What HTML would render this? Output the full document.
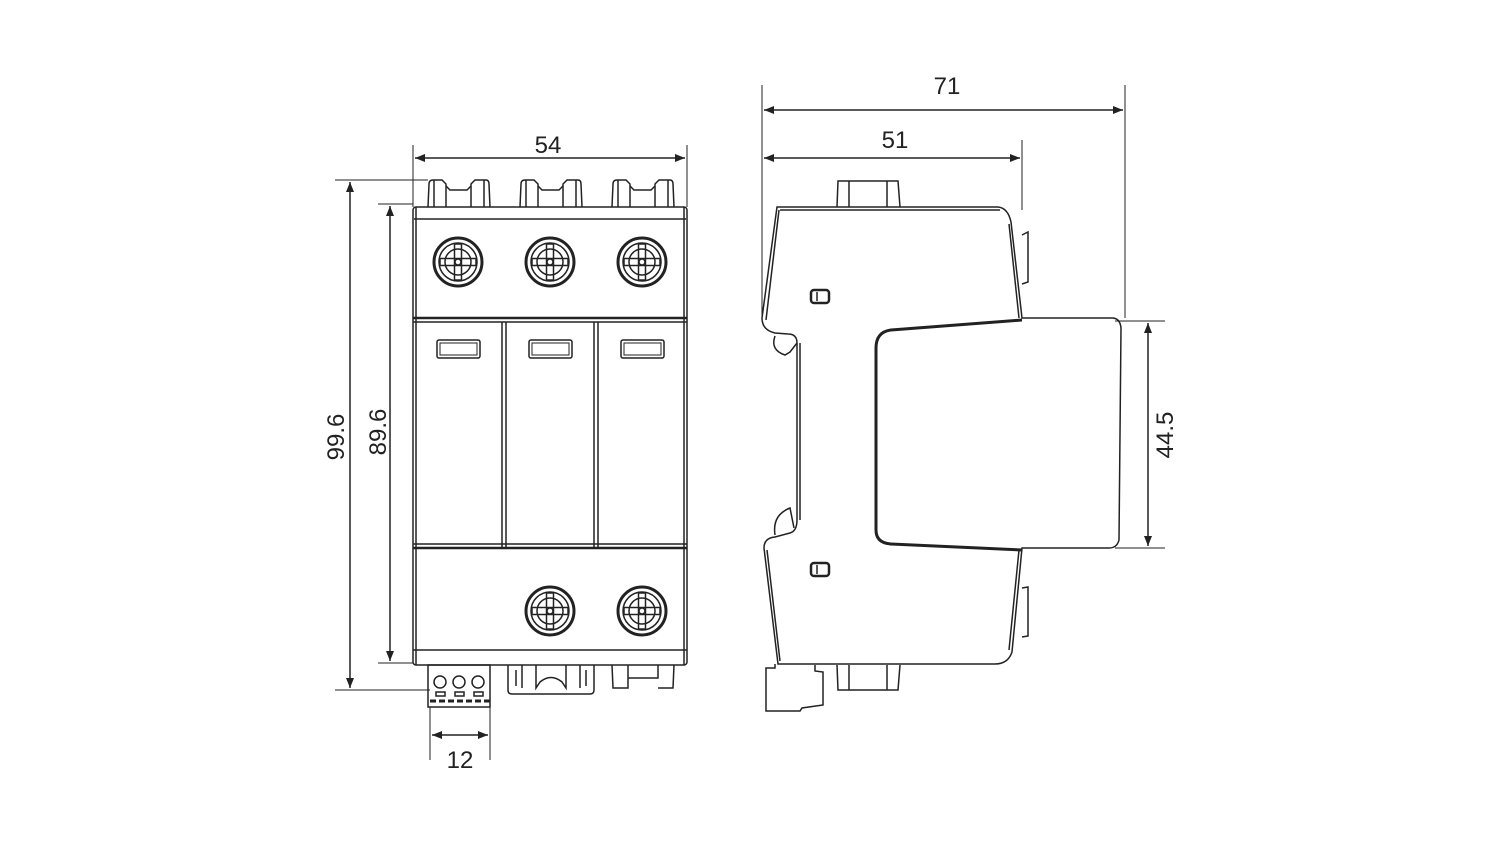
<!DOCTYPE html>
<html><head><style>html,body{margin:0;padding:0;background:#fff}svg{display:block}text{font-family:"Liberation Sans",sans-serif;font-size:24px;fill:#222}</style></head>
<body>
<svg width="1500" height="844" viewBox="0 0 1500 844" xmlns="http://www.w3.org/2000/svg">
<defs>
<marker id="a" viewBox="0 0 10 10" refX="10" refY="5" markerWidth="17" markerHeight="10" orient="auto-start-reverse" markerUnits="userSpaceOnUse"><path d="M0,1 L10,5 L0,9 z" fill="#222"/></marker>
<g id="scr"><circle r="24" fill="none" stroke="#222" stroke-width="3"/><circle r="19" fill="none" stroke="#222" stroke-width="1.5"/><circle r="13" fill="none" stroke="#222" stroke-width="1.5"/><rect x="-3.5" y="-18" width="7" height="36" fill="none" stroke="#222" stroke-width="1.5"/><rect x="-18" y="-3.5" width="36" height="7" fill="none" stroke="#222" stroke-width="1.5"/><circle r="3" fill="#fff"/></g>
<g id="tab" fill="none" stroke="#222" stroke-width="1.5"><path d="M0,27 L1,4 Q1,0 5,0 L14,0 L18,4 L18,27"/><line x1="6" y1="0" x2="6" y2="27"/><path d="M18,6 L22,10 L39,10 L43,6"/><path d="M43,27 L43,4 L47,0 L58,0 Q61,0 61,4 L62,27"/><line x1="56" y1="0" x2="56" y2="27"/></g>
<g id="win"><rect x="0" y="0" width="43" height="18" rx="2" fill="none" stroke="#222" stroke-width="1.5"/><rect x="3" y="3" width="37" height="12" fill="none" stroke="#222" stroke-width="1"/></g>
</defs>
<g fill="none" stroke="#222" stroke-width="1.5">
<use href="#tab" x="428" y="180"/><use href="#tab" x="520" y="180"/><use href="#tab" x="612" y="180"/>
<rect x="413" y="207" width="274" height="458" rx="3"/>
<line x1="414" y1="219" x2="686" y2="219"/>
<line x1="416" y1="207" x2="416" y2="665"/><line x1="684" y1="207" x2="684" y2="665"/>
<line x1="413" y1="318" x2="687" y2="318" stroke-width="2.5"/><line x1="413" y1="322" x2="687" y2="322"/>
<line x1="413" y1="548" x2="687" y2="548" stroke-width="2.5"/><line x1="413" y1="544" x2="687" y2="544"/>
<line x1="502" y1="322" x2="502" y2="548"/><line x1="506" y1="322" x2="506" y2="548"/>
<line x1="594" y1="322" x2="594" y2="548"/><line x1="598" y1="322" x2="598" y2="548"/>
<line x1="413" y1="650" x2="687" y2="650"/>
<use href="#win" x="437" y="340"/><use href="#win" x="529" y="340"/><use href="#win" x="621" y="340"/>
<use href="#scr" x="458" y="262"/><use href="#scr" x="550" y="262"/><use href="#scr" x="642" y="262"/>
<use href="#scr" x="550" y="611"/><use href="#scr" x="642" y="611"/>
<rect x="428" y="665" width="62" height="42"/>
<circle cx="440" cy="682" r="6"/><circle cx="459" cy="682" r="6"/><circle cx="478" cy="682" r="6"/>
<rect x="436" y="692" width="9" height="4"/><rect x="455" y="692" width="9" height="4"/><rect x="474" y="692" width="9" height="4"/>
<line x1="430" y1="701" x2="490" y2="701" stroke-width="3" stroke-dasharray="6,3"/>
<path d="M508,665 L508,690 Q508,694 512,694 L590,694 Q594,694 594,690 L594,665"/>
<path d="M516,670 L516,686 M522,665 L522,688 M536,665 L536,688 L540,682 Q551,673 562,682 L566,688 L566,665 M580,665 L580,688 M586,670 L586,686"/>
<path d="M612,665 L613,688 L628,688 L628,665 M628,678 L658,678 L658,665 M658,688 L673,688 L674,665"/>
<line x1="413" y1="145" x2="413" y2="207" stroke-width="1"/><line x1="687" y1="145" x2="687" y2="207" stroke-width="1"/>
<line x1="415" y1="158" x2="685" y2="158" marker-start="url(#a)" marker-end="url(#a)"/>
<line x1="335" y1="180" x2="428" y2="180" stroke-width="1"/><line x1="335" y1="690" x2="430" y2="690" stroke-width="1"/>
<line x1="350" y1="182" x2="350" y2="688" marker-start="url(#a)" marker-end="url(#a)"/>
<line x1="378" y1="204" x2="413" y2="204" stroke-width="1"/><line x1="378" y1="663" x2="413" y2="663" stroke-width="1"/>
<line x1="390" y1="206" x2="390" y2="661" marker-start="url(#a)" marker-end="url(#a)"/>
<line x1="430" y1="707" x2="430" y2="760" stroke-width="1"/><line x1="490" y1="707" x2="490" y2="760" stroke-width="1"/>
<line x1="432" y1="735" x2="488" y2="735" marker-start="url(#a)" marker-end="url(#a)"/>
<path d="M837,207 L838,181 L898,181 L900,207 M849,181 L849,207 M887,181 L887,207"/>
<path d="M837,665 L838,690 L898,690 L900,665 M849,665 L849,690 M887,665 L887,690"/>
<path d="M777,207 L998,207 Q1008,208 1011,222 L1022,318 L1112,318 Q1120,318 1121,328 L1119,540 Q1117,548 1109,548 L1022,548 L1012,652 Q1008,664 995,664 L778,664 L764,548 Q764,538 775,537 L790,533 Q797,531 797,520 L797,343 Q797,334 788,334 L775,333 Q762,330 762,318 Z"/>
<path d="M780,210 L1000,210 M766,320 L779,210 M1009,224 L1019,318 M1019,550 L1009,650 M767,550 L780,661"/>
<path d="M800,343 L800,520"/>
<path d="M775,336 Q770,350 785,355 L790,352 L797,343" />
<path d="M775,535 Q772,515 790,508 L794,528"/>
<path d="M1022,320 L891,330 Q876,332 876,348 L876,530 Q876,543 891,544 L1022,550" stroke-width="3"/>
<path d="M1022,235 L1028,232 L1028,282 L1022,284 M1022,588 L1028,587 L1028,636 L1022,637"/>
<rect x="811" y="290" width="18" height="13" rx="3" stroke-width="2.5"/><line x1="817" y1="292" x2="817" y2="301"/>
<rect x="811" y="563" width="18" height="13" rx="3" stroke-width="2.5"/><line x1="817" y1="565" x2="817" y2="574"/>
<path d="M775,664 L775,668 L766,668 L766,711 L800,711 L802,708 L823,705 L823,672 L815,671 L815,665"/>
<line x1="762" y1="85" x2="762" y2="320" stroke-width="1"/><line x1="1125" y1="85" x2="1125" y2="318" stroke-width="1"/>
<line x1="764" y1="110" x2="1123" y2="110" marker-start="url(#a)" marker-end="url(#a)"/>
<line x1="1022" y1="140" x2="1022" y2="210" stroke-width="1"/>
<line x1="764" y1="158" x2="1020" y2="158" marker-start="url(#a)" marker-end="url(#a)"/>
<line x1="1115" y1="321" x2="1165" y2="321" stroke-width="1"/><line x1="1115" y1="548" x2="1165" y2="548" stroke-width="1"/>
<line x1="1148" y1="323" x2="1148" y2="546" marker-start="url(#a)" marker-end="url(#a)"/>
</g>
<text x="548" y="153" text-anchor="middle">54</text>
<text x="460" y="768" text-anchor="middle">12</text>
<text x="947" y="94" text-anchor="middle">71</text>
<text x="895" y="148" text-anchor="middle">51</text>
<text transform="translate(344,437) rotate(-90)" text-anchor="middle">99.6</text>
<text transform="translate(386,432) rotate(-90)" text-anchor="middle">89.6</text>
<text transform="translate(1173,435) rotate(-90)" text-anchor="middle">44.5</text>
</svg>
</body></html>
